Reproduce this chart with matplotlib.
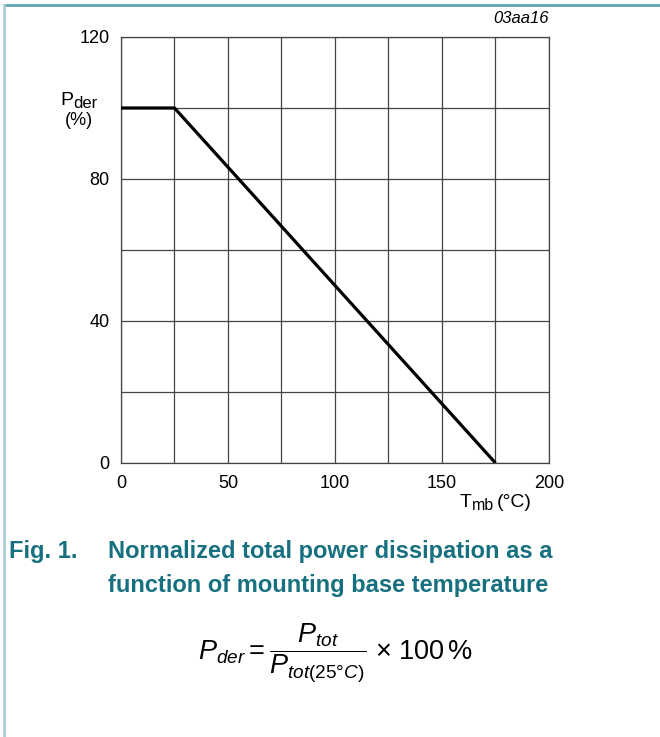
import matplotlib
matplotlib.use("Agg")
import matplotlib.pyplot as plt
from matplotlib.lines import Line2D

plt.rcParams['font.family'] = ['Liberation Sans', 'DejaVu Sans']
plt.rcParams['mathtext.fontset'] = 'custom'
plt.rcParams['mathtext.rm'] = 'Liberation Sans'
plt.rcParams['mathtext.it'] = 'Liberation Sans:italic'
plt.rcParams['mathtext.bf'] = 'Liberation Sans:bold'

# derating curve
t_mb = [0, 25, 175]
p_der = [100, 100, 0]

x_ticks = [0, 50, 100, 150, 200]
y_ticks = [0, 40, 80, 120]
x_grid = [0, 25, 50, 75, 100, 125, 150, 175, 200]
y_grid = [0, 20, 40, 60, 80, 100, 120]

teal = "#16707f"

fig = plt.figure(figsize=(6.6, 7.37), dpi=100)
ax = fig.add_axes([0.1833, 0.3718, 0.6485, 0.578])

for gx in x_grid:
    ax.axvline(gx, color="#444444", lw=0.9, zorder=1)
for gy in y_grid:
    ax.axhline(gy, color="#444444", lw=0.9, zorder=1)

ax.plot(t_mb, p_der, color="black", lw=2.3, solid_capstyle="butt", zorder=3)

ax.set_xlim(0, 200)
ax.set_ylim(0, 120)
ax.set_xticks(x_ticks)
ax.set_yticks(y_ticks)
ax.tick_params(axis="x", length=0, labelsize=13, pad=9)
ax.tick_params(axis="y", length=0, labelsize=13, pad=8)
for s in ax.spines.values():
    s.set_color("#444444")
    s.set_linewidth(0.9)

# axis labels drawn as free text like in the datasheet
fig.text(0.101, 0.864, "P", fontsize=14, ha="center", va="center")
fig.text(0.111, 0.860, "der", fontsize=12, ha="left", va="center")
fig.text(0.119, 0.836, "(%)", fontsize=13, ha="center", va="center")
fig.text(0.697, 0.318, "T", fontsize=14, ha="left", va="center")
fig.text(0.715, 0.314, "mb", fontsize=11.5, ha="left", va="center")
fig.text(0.753, 0.318, "(°C)", fontsize=14, ha="left", va="center")
fig.text(0.832, 0.975, "03aa16", fontsize=12, style="italic", ha="right", va="center")

fig.text(0.014, 0.252, "Fig. 1.", fontsize=17, weight="bold", color=teal, va="center")
fig.text(0.163, 0.252, "Normalized total power dissipation as a", fontsize=17,
         weight="bold", color=teal, va="center")
fig.text(0.163, 0.206, "function of mounting base temperature", fontsize=17,
         weight="bold", color=teal, va="center")

fig.text(0.508, 0.113,
         r"$P_{der} = \dfrac{P_{tot}}{P_{tot(25\mathrm{°}C)}}\ \mathrm{\times\ 100\,\%}$",
         fontsize=19.5, ha="center", va="center")

# page border lines
fig.add_artist(Line2D([0.006, 1.0], [0.993, 0.993], color="#5fa6b0", lw=2))
fig.add_artist(Line2D([0.006, 0.006], [0.0, 0.993], color="#a9cfd8", lw=2))

fig.savefig("out.png", dpi=100)
